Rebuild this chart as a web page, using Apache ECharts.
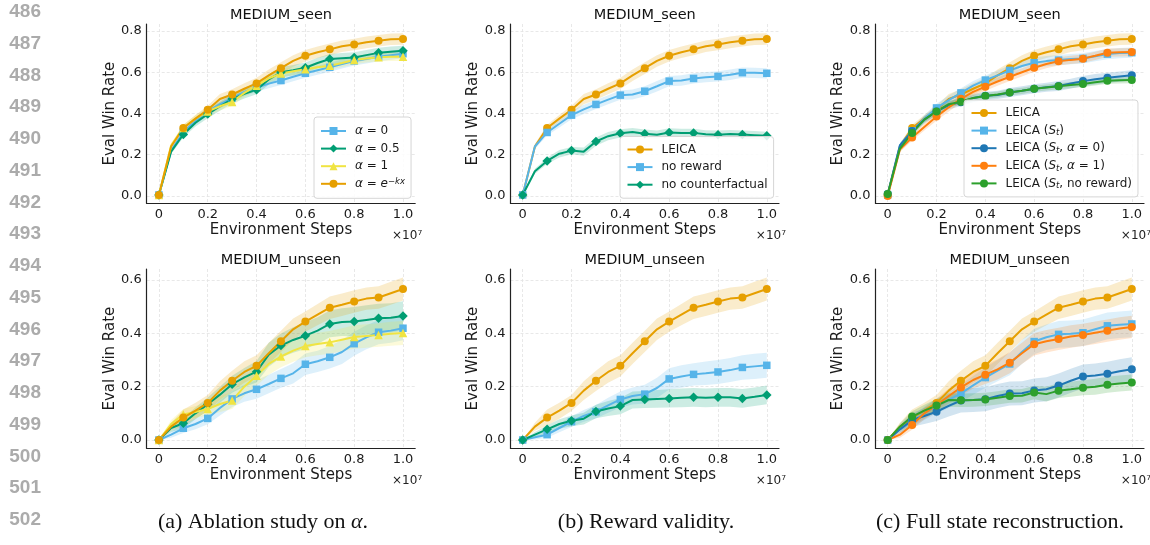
<!DOCTYPE html>
<html>
<head>
<meta charset="utf-8">
<script src="https://cdn.jsdelivr.net/npm/echarts@6/dist/echarts.min.js"></script>
<style>
  html, body { margin: 0; padding: 0; background: #fff; }
  #main { width: 1150px; height: 545px; }
</style>
</head>
<body>
<div id="main"></div>
<script>
// environment steps (x 1e7), one eval every 0.05
var steps = [0, 0.05, 0.1, 0.15, 0.2, 0.25, 0.3, 0.35, 0.4, 0.45, 0.5, 0.55, 0.6, 0.65, 0.7, 0.75, 0.8, 0.85, 0.9, 0.95, 1.0];
var xTicks = [0, 0.2, 0.4, 0.6, 0.8, 1.0];
var yTicksSeen = [0, 0.2, 0.4, 0.6, 0.8];
var yTicksUnseen = [0, 0.2, 0.4, 0.6];

// MEDIUM_seen
var leicaSeen    = [0.005, 0.24, 0.33, 0.375, 0.418, 0.47, 0.492, 0.52, 0.546, 0.585, 0.62, 0.655, 0.68, 0.697, 0.711, 0.726, 0.735, 0.745, 0.753, 0.76, 0.761];
var leicaSeenSd  = [0.005, 0.012, 0.015, 0.018, 0.02, 0.025, 0.025, 0.027, 0.027, 0.028, 0.028, 0.028, 0.028, 0.028, 0.028, 0.028, 0.028, 0.028, 0.028, 0.028, 0.028];
var alpha0Seen   = [0.005, 0.22, 0.31, 0.365, 0.41, 0.445, 0.475, 0.505, 0.525, 0.545, 0.56, 0.578, 0.595, 0.61, 0.624, 0.64, 0.655, 0.665, 0.675, 0.683, 0.69];
var alpha0SeenSd = [0.005, 0.012, 0.015, 0.018, 0.02, 0.02, 0.02, 0.02, 0.02, 0.022, 0.022, 0.022, 0.022, 0.022, 0.022, 0.022, 0.022, 0.022, 0.022, 0.022, 0.022];
var alpha05Seen  = [0.005, 0.215, 0.298, 0.355, 0.397, 0.435, 0.47, 0.495, 0.515, 0.565, 0.6, 0.61, 0.622, 0.645, 0.664, 0.668, 0.672, 0.683, 0.694, 0.7, 0.704];
var alpha05SeenSd= [0.005, 0.012, 0.015, 0.018, 0.02, 0.022, 0.022, 0.022, 0.022, 0.025, 0.025, 0.025, 0.025, 0.025, 0.025, 0.025, 0.025, 0.025, 0.025, 0.025, 0.025];
var alpha1Seen   = [0.005, 0.245, 0.33, 0.375, 0.41, 0.435, 0.456, 0.5, 0.535, 0.57, 0.594, 0.605, 0.615, 0.624, 0.632, 0.645, 0.659, 0.667, 0.673, 0.675, 0.675];
var alpha1SeenSd = [0.005, 0.012, 0.015, 0.018, 0.02, 0.02, 0.02, 0.02, 0.02, 0.02, 0.02, 0.02, 0.02, 0.02, 0.02, 0.02, 0.02, 0.02, 0.02, 0.02, 0.02];
var noRewSeen    = [0.005, 0.24, 0.308, 0.35, 0.392, 0.42, 0.444, 0.467, 0.489, 0.492, 0.508, 0.532, 0.557, 0.56, 0.57, 0.576, 0.58, 0.588, 0.598, 0.597, 0.595];
var noRewSeenSd  = [0.005, 0.012, 0.015, 0.018, 0.02, 0.022, 0.022, 0.022, 0.022, 0.024, 0.024, 0.025, 0.025, 0.025, 0.025, 0.025, 0.025, 0.025, 0.025, 0.025, 0.025];
var noCfSeen     = [0.005, 0.12, 0.17, 0.205, 0.22, 0.215, 0.264, 0.29, 0.304, 0.31, 0.302, 0.297, 0.308, 0.306, 0.306, 0.299, 0.297, 0.3, 0.298, 0.295, 0.292];
var noCfSeenSd   = [0.005, 0.012, 0.015, 0.018, 0.018, 0.02, 0.02, 0.02, 0.02, 0.02, 0.02, 0.02, 0.02, 0.02, 0.02, 0.02, 0.02, 0.02, 0.02, 0.02, 0.02];
var stSeen       = [0.005, 0.245, 0.316, 0.375, 0.427, 0.465, 0.5, 0.535, 0.562, 0.585, 0.609, 0.63, 0.646, 0.654, 0.659, 0.664, 0.667, 0.678, 0.688, 0.693, 0.695];
var stSeenSd     = [0.005, 0.012, 0.015, 0.018, 0.02, 0.022, 0.022, 0.022, 0.022, 0.024, 0.024, 0.025, 0.025, 0.025, 0.025, 0.025, 0.025, 0.025, 0.025, 0.025, 0.025];
var stA0Seen     = [0.01, 0.245, 0.315, 0.37, 0.41, 0.44, 0.455, 0.475, 0.486, 0.49, 0.502, 0.51, 0.52, 0.527, 0.533, 0.545, 0.557, 0.566, 0.573, 0.579, 0.585];
var stA0SeenSd   = [0.005, 0.012, 0.015, 0.018, 0.02, 0.02, 0.02, 0.02, 0.02, 0.02, 0.022, 0.022, 0.022, 0.022, 0.024, 0.024, 0.025, 0.025, 0.025, 0.025, 0.025];
var stA1Seen     = [0.0, 0.225, 0.283, 0.335, 0.385, 0.43, 0.471, 0.505, 0.53, 0.555, 0.578, 0.6, 0.622, 0.64, 0.653, 0.66, 0.666, 0.68, 0.695, 0.697, 0.698];
var stA1SeenSd   = [0.005, 0.012, 0.015, 0.018, 0.02, 0.02, 0.02, 0.02, 0.02, 0.02, 0.02, 0.02, 0.02, 0.02, 0.02, 0.02, 0.02, 0.02, 0.02, 0.02, 0.02];
var stNrSeen     = [0.01, 0.23, 0.305, 0.37, 0.41, 0.445, 0.457, 0.475, 0.485, 0.492, 0.502, 0.51, 0.52, 0.526, 0.532, 0.538, 0.543, 0.551, 0.559, 0.561, 0.562];
var stNrSeenSd   = [0.005, 0.012, 0.015, 0.015, 0.015, 0.015, 0.015, 0.015, 0.015, 0.015, 0.015, 0.015, 0.015, 0.015, 0.015, 0.015, 0.015, 0.015, 0.015, 0.015, 0.015];

// MEDIUM_unseen
var leicaUnseen    = [0, 0.05, 0.084, 0.11, 0.139, 0.185, 0.222, 0.255, 0.278, 0.325, 0.37, 0.415, 0.444, 0.47, 0.496, 0.507, 0.519, 0.53, 0.534, 0.55, 0.566];
var leicaUnseenSd  = [0, 0.015, 0.03, 0.03, 0.03, 0.035, 0.038, 0.04, 0.04, 0.04, 0.04, 0.04, 0.038, 0.04, 0.042, 0.042, 0.042, 0.042, 0.042, 0.043, 0.043];
var alpha0Unseen   = [0, 0.02, 0.044, 0.06, 0.081, 0.12, 0.154, 0.175, 0.19, 0.21, 0.231, 0.25, 0.284, 0.295, 0.31, 0.33, 0.361, 0.385, 0.404, 0.41, 0.419];
var alpha0UnseenSd = [0, 0.012, 0.018, 0.02, 0.022, 0.028, 0.03, 0.032, 0.035, 0.035, 0.035, 0.038, 0.04, 0.04, 0.042, 0.045, 0.045, 0.045, 0.045, 0.045, 0.045];
var alpha05Unseen  = [0, 0.045, 0.063, 0.1, 0.134, 0.17, 0.209, 0.235, 0.256, 0.32, 0.354, 0.375, 0.391, 0.41, 0.435, 0.442, 0.444, 0.45, 0.456, 0.458, 0.465];
var alpha05UnseenSd= [0, 0.015, 0.02, 0.022, 0.025, 0.03, 0.032, 0.035, 0.04, 0.045, 0.045, 0.048, 0.05, 0.05, 0.05, 0.052, 0.055, 0.055, 0.055, 0.055, 0.055];
var alpha1Unseen   = [0, 0.06, 0.096, 0.105, 0.116, 0.135, 0.148, 0.2, 0.241, 0.285, 0.313, 0.335, 0.352, 0.36, 0.366, 0.376, 0.386, 0.39, 0.394, 0.398, 0.401];
var alpha1UnseenSd = [0, 0.015, 0.02, 0.022, 0.025, 0.03, 0.032, 0.035, 0.038, 0.04, 0.04, 0.042, 0.042, 0.042, 0.043, 0.043, 0.044, 0.044, 0.044, 0.045, 0.045];
var noRewUnseen    = [0, 0.01, 0.02, 0.045, 0.069, 0.09, 0.106, 0.13, 0.152, 0.165, 0.172, 0.195, 0.229, 0.238, 0.246, 0.25, 0.255, 0.262, 0.272, 0.276, 0.28];
var noRewUnseenSd  = [0, 0.008, 0.012, 0.016, 0.02, 0.022, 0.025, 0.028, 0.03, 0.032, 0.035, 0.038, 0.04, 0.042, 0.042, 0.044, 0.045, 0.045, 0.046, 0.047, 0.047];
var noCfUnseen     = [0, 0.02, 0.04, 0.06, 0.072, 0.08, 0.107, 0.118, 0.127, 0.15, 0.152, 0.154, 0.156, 0.158, 0.16, 0.158, 0.16, 0.16, 0.156, 0.162, 0.169];
var noCfUnseenSd   = [0, 0.01, 0.015, 0.018, 0.02, 0.022, 0.025, 0.028, 0.03, 0.032, 0.032, 0.033, 0.034, 0.035, 0.035, 0.035, 0.035, 0.035, 0.035, 0.035, 0.035];
var stUnseen       = [0, 0.04, 0.07, 0.1, 0.128, 0.15, 0.175, 0.205, 0.234, 0.26, 0.285, 0.33, 0.369, 0.385, 0.396, 0.398, 0.402, 0.415, 0.428, 0.432, 0.435];
var stUnseenSd     = [0, 0.012, 0.02, 0.025, 0.028, 0.03, 0.032, 0.035, 0.038, 0.04, 0.042, 0.045, 0.048, 0.048, 0.05, 0.05, 0.05, 0.05, 0.05, 0.05, 0.05];
var stA0Unseen     = [0, 0.04, 0.075, 0.09, 0.106, 0.128, 0.148, 0.15, 0.153, 0.165, 0.174, 0.175, 0.186, 0.19, 0.204, 0.222, 0.238, 0.242, 0.248, 0.258, 0.265];
var stA0UnseenSd   = [0, 0.015, 0.025, 0.03, 0.035, 0.04, 0.045, 0.045, 0.045, 0.045, 0.045, 0.045, 0.045, 0.045, 0.045, 0.045, 0.045, 0.045, 0.045, 0.045, 0.045];
var stA1Unseen     = [0, 0.02, 0.056, 0.1, 0.13, 0.165, 0.197, 0.225, 0.245, 0.265, 0.29, 0.325, 0.359, 0.37, 0.379, 0.388, 0.394, 0.402, 0.41, 0.418, 0.424];
var stA1UnseenSd   = [0, 0.012, 0.018, 0.022, 0.025, 0.028, 0.03, 0.032, 0.035, 0.038, 0.04, 0.04, 0.042, 0.042, 0.042, 0.042, 0.042, 0.042, 0.042, 0.042, 0.042];
var stNrUnseen     = [0, 0.05, 0.088, 0.11, 0.129, 0.15, 0.149, 0.15, 0.152, 0.158, 0.165, 0.166, 0.178, 0.172, 0.185, 0.19, 0.196, 0.2, 0.207, 0.212, 0.216];
var stNrUnseenSd   = [0, 0.012, 0.02, 0.022, 0.025, 0.025, 0.025, 0.025, 0.025, 0.025, 0.025, 0.025, 0.025, 0.028, 0.028, 0.028, 0.028, 0.03, 0.03, 0.03, 0.03];

var lineNumbers = ['486', '487', '488', '489', '490', '491', '492', '493', '494', '495', '496', '497', '498', '499', '500', '501', '502'];
var captions = ['(a) Ablation study on {i|\u03b1}.', '(b) Reward validity.', '(c) Full state reconstruction.'];

var ORANGE = '#E69F00', SKY = '#56B4E9', GREEN = '#009E73', YELLOW = '#F0E442';
var TBLUE = '#1f77b4', TORANGE = '#ff7f0e', TGREEN = '#2ca02c';
var FONT = 'DejaVu Sans';

// legend label markup
var labels = {
  'a0': '{i|\u03b1} = 0',
  'a05': '{i|\u03b1} = 0.5',
  'a1': '{i|\u03b1} = 1',
  'aexp': '{i|\u03b1} = {i|e}{sup|\u2212kx}',
  'LEICA': 'LEICA',
  'no reward': 'no reward',
  'no counterfactual': 'no counterfactual',
  'st': 'LEICA ({i|S}{sub|t})',
  'st0': 'LEICA ({i|S}{sub|t}, {i|\u03b1} = 0)',
  'st1': 'LEICA ({i|S}{sub|t}, {i|\u03b1} = 1)',
  'stnr': 'LEICA ({i|S}{sub|t}, no reward)'
};

var panels = [
  {title: 'MEDIUM_seen', left: 146.7, top: 24, yMin: -0.0355, yMax: 0.834, yTicks: yTicksSeen,
   curves: [
     {name: 'a0', mean: alpha0Seen, sd: alpha0SeenSd, color: SKY, symbol: 'rect', size: 7.5},
     {name: 'a05', mean: alpha05Seen, sd: alpha05SeenSd, color: GREEN, symbol: 'diamond', size: 9.5},
     {name: 'a1', mean: alpha1Seen, sd: alpha1SeenSd, color: YELLOW, symbol: 'triangle', size: 8.5},
     {name: 'aexp', mean: leicaSeen, sd: leicaSeenSd, color: ORANGE, symbol: 'circle', size: 8}
   ],
   legend: {left: 314, top: 117, pad: [7, 6, 7.5, 6]}},
  {title: 'MEDIUM_seen', left: 510.5, top: 24, yMin: -0.0355, yMax: 0.834, yTicks: yTicksSeen,
   curves: [
     {name: 'LEICA', mean: leicaSeen, sd: leicaSeenSd, color: ORANGE, symbol: 'circle', size: 8},
     {name: 'no reward', mean: noRewSeen, sd: noRewSeenSd, color: SKY, symbol: 'rect', size: 7.5},
     {name: 'no counterfactual', mean: noCfSeen, sd: noCfSeenSd, color: GREEN, symbol: 'diamond', size: 9.5}
   ],
   legend: {left: 620, top: 136.5, pad: [6, 6, 6.5, 6.5]}},
  {title: 'MEDIUM_seen', left: 875.5, top: 24, yMin: -0.0355, yMax: 0.834, yTicks: yTicksSeen,
   curves: [
     {name: 'LEICA', mean: leicaSeen, sd: leicaSeenSd, color: ORANGE, symbol: 'circle', size: 8},
     {name: 'st', mean: stSeen, sd: stSeenSd, color: SKY, symbol: 'rect', size: 7.5},
     {name: 'st0', mean: stA0Seen, sd: stA0SeenSd, color: TBLUE, symbol: 'circle', size: 8},
     {name: 'st1', mean: stA1Seen, sd: stA1SeenSd, color: TORANGE, symbol: 'circle', size: 8},
     {name: 'stnr', mean: stNrSeen, sd: stNrSeenSd, color: TGREEN, symbol: 'circle', size: 8}
   ],
   legend: {left: 964, top: 100, pad: [6, 6, 6.5, 6.5]}},
  {title: 'MEDIUM_unseen', left: 146.7, top: 269, yMin: -0.0311, yMax: 0.641, yTicks: yTicksUnseen,
   curves: [
     {name: 'a0', mean: alpha0Unseen, sd: alpha0UnseenSd, color: SKY, symbol: 'rect', size: 7.5},
     {name: 'a05', mean: alpha05Unseen, sd: alpha05UnseenSd, color: GREEN, symbol: 'diamond', size: 9.5},
     {name: 'a1', mean: alpha1Unseen, sd: alpha1UnseenSd, color: YELLOW, symbol: 'triangle', size: 8.5},
     {name: 'aexp', mean: leicaUnseen, sd: leicaUnseenSd, color: ORANGE, symbol: 'circle', size: 8}
   ]},
  {title: 'MEDIUM_unseen', left: 510.5, top: 269, yMin: -0.0311, yMax: 0.641, yTicks: yTicksUnseen,
   curves: [
     {name: 'LEICA', mean: leicaUnseen, sd: leicaUnseenSd, color: ORANGE, symbol: 'circle', size: 8},
     {name: 'no reward', mean: noRewUnseen, sd: noRewUnseenSd, color: SKY, symbol: 'rect', size: 7.5},
     {name: 'no counterfactual', mean: noCfUnseen, sd: noCfUnseenSd, color: GREEN, symbol: 'diamond', size: 9.5}
   ]},
  {title: 'MEDIUM_unseen', left: 875.5, top: 269, yMin: -0.0311, yMax: 0.641, yTicks: yTicksUnseen,
   curves: [
     {name: 'LEICA', mean: leicaUnseen, sd: leicaUnseenSd, color: ORANGE, symbol: 'circle', size: 8},
     {name: 'st', mean: stUnseen, sd: stUnseenSd, color: SKY, symbol: 'rect', size: 7.5},
     {name: 'st0', mean: stA0Unseen, sd: stA0UnseenSd, color: TBLUE, symbol: 'circle', size: 8},
     {name: 'st1', mean: stA1Unseen, sd: stA1UnseenSd, color: TORANGE, symbol: 'circle', size: 8},
     {name: 'stnr', mean: stNrUnseen, sd: stNrUnseenSd, color: TGREEN, symbol: 'circle', size: 8}
   ]}
];

var PW = 268.5, PH = 179.3;

function bandRenderer(rows, color) {
  return function (params, api) {
    if (params.dataIndex !== 0) return;
    var pts = [];
    for (var i = 0; i < rows.length; i++) pts.push(api.coord([rows[i][0], rows[i][2]]));
    for (var j = rows.length - 1; j >= 0; j--) pts.push(api.coord([rows[j][0], rows[j][1]]));
    return {type: 'polygon', shape: {points: pts}, style: {fill: color, opacity: 0.2}, silent: true};
  };
}

var grids = [], xAxes = [], yAxes = [], series = [], legends = [], graphics = [];
var nameText = {fontFamily: FONT, fontSize: 15, color: '#1a1a1a'};
var gridLine = {show: true, lineStyle: {color: '#e2e2e2', type: [3, 2], width: 0.8}};
var spine = {show: true, onZero: false, lineStyle: {color: '#222', width: 1.2}};

panels.forEach(function (p, k) {
  grids.push({left: p.left, top: p.top, width: PW, height: PH});
  xAxes.push({
    gridIndex: k, type: 'value', min: -0.05, max: 1.05,
    axisLine: spine,
    axisTick: {show: false, customValues: xTicks},
    axisLabel: {customValues: xTicks, margin: 5, fontFamily: FONT, fontSize: 13, color: '#1a1a1a',
      formatter: function (v) { return v === 0 ? '0' : v.toFixed(1); }},
    splitLine: gridLine,
    name: 'Environment Steps', nameLocation: 'middle', nameGap: 19, nameTextStyle: nameText
  });
  yAxes.push({
    gridIndex: k, type: 'value', min: p.yMin, max: p.yMax,
    axisLine: spine,
    axisTick: {show: false, customValues: p.yTicks},
    axisLabel: {customValues: p.yTicks, margin: 5, fontFamily: FONT, fontSize: 13, color: '#1a1a1a',
      formatter: function (v) { return v.toFixed(1); }},
    splitLine: gridLine,
    name: 'Eval Win Rate', nameLocation: 'middle', nameGap: 25.5, nameTextStyle: nameText
  });

  p.curves.forEach(function (c) {
    var rows = steps.map(function (x, i) { return [x, c.mean[i] - c.sd[i], c.mean[i] + c.sd[i]]; });
    series.push({
      type: 'custom', xAxisIndex: k, yAxisIndex: k, z: 1, silent: true,
      data: rows, encode: {x: 0, y: [1, 2]},
      renderItem: bandRenderer(rows, c.color), clip: true
    });
  });
  p.curves.forEach(function (c) {
    series.push({
      type: 'line', name: c.name, xAxisIndex: k, yAxisIndex: k, z: 3,
      data: steps.map(function (x, i) { return [x, c.mean[i]]; }),
      symbol: c.symbol, showAllSymbol: true,
      symbolSize: (function (s) { return function (v, prm) { return prm.dataIndex % 2 ? 0 : s; }; })(c.size),
      lineStyle: {color: c.color, width: 2},
      itemStyle: {color: c.color},
      emphasis: {disabled: true}
    });
  });

  if (p.legend) {
    legends.push({
      orient: 'vertical', left: p.legend.left, top: p.legend.top, padding: p.legend.pad,
      itemWidth: 25, itemHeight: 10, itemGap: 3.6, selectedMode: false,
      backgroundColor: 'rgba(255,255,255,0.85)', borderColor: '#d6d6d6', borderWidth: 1, borderRadius: 3,
      data: p.curves.map(function (c) { return c.name; }),
      formatter: function (n) { return labels[n]; },
      textStyle: {
        fontFamily: FONT, fontSize: 12, color: '#1a1a1a', lineHeight: 14, padding: [0, 0, 0, 4],
        rich: {
          i: {fontFamily: FONT, fontSize: 12, fontStyle: 'italic', color: '#1a1a1a', lineHeight: 14},
          sub: {fontFamily: FONT, fontSize: 8.5, fontStyle: 'italic', color: '#1a1a1a', lineHeight: 8, verticalAlign: 'bottom'},
          sup: {fontFamily: FONT, fontSize: 8.5, fontStyle: 'italic', color: '#1a1a1a', lineHeight: 8, verticalAlign: 'top'}
        }
      }
    });
  }

  graphics.push({type: 'text', x: p.left + PW / 2, y: p.top - 9, z: 10,
    style: {text: p.title, fontFamily: FONT, fontSize: 14.5, fill: '#111',
      align: 'center', verticalAlign: 'middle', textAlign: 'center', textVerticalAlign: 'middle'}});
  graphics.push({type: 'text', x: p.left + PW + 7, y: p.top + PH + 33, z: 10,
    style: {text: '\u00d710\u2077', fontFamily: FONT, fontSize: 12, fill: '#222',
      align: 'right', verticalAlign: 'middle', textAlign: 'right', textVerticalAlign: 'middle'}});
});

lineNumbers.forEach(function (t, i) {
  graphics.push({type: 'text', x: 41, y: 12 + i * 31.75,
    style: {text: t, fontFamily: 'Liberation Sans', fontWeight: 'bold', fontSize: 19, fill: '#ababab',
      align: 'right', verticalAlign: 'middle', textAlign: 'right', textVerticalAlign: 'middle'}});
});
[263, 646, 1000].forEach(function (cx, i) {
  graphics.push({type: 'text', x: cx, y: 522,
    style: {text: captions[i], fontFamily: 'Liberation Serif', fontSize: 22, fill: '#111',
      align: 'center', verticalAlign: 'middle', textAlign: 'center', textVerticalAlign: 'middle',
      rich: {i: {fontFamily: 'Liberation Serif', fontSize: 22, fontStyle: 'italic', fill: '#111'}}}});
});

var chart = echarts.init(document.getElementById('main'), null, {renderer: 'canvas'});
chart.setOption({
  animation: false,
  backgroundColor: '#fff',
  textStyle: {fontFamily: FONT},
  grid: grids,
  xAxis: xAxes,
  yAxis: yAxes,
  legend: legends,
  series: series,
  graphic: graphics
});
</script>
</body>
</html>
